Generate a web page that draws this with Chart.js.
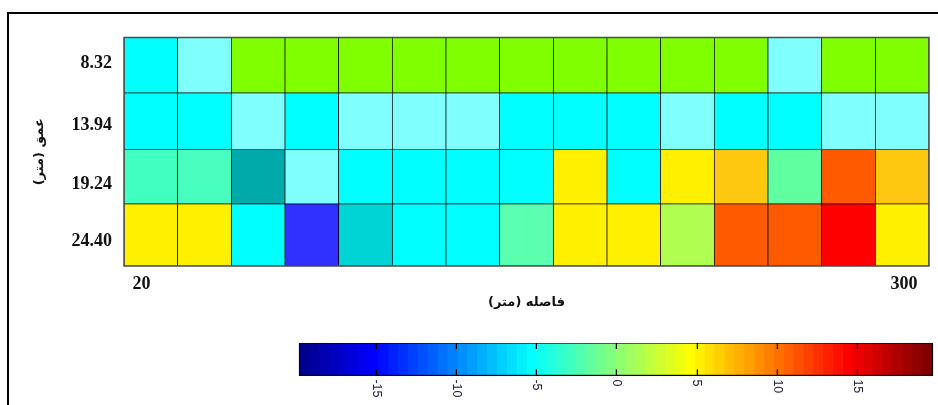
<!DOCTYPE html>
<html>
<head>
<meta charset="utf-8">
<script src="https://cdn.jsdelivr.net/npm/chart.js@4.4.1/dist/chart.umd.min.js"></script>
<style>
  html, body { margin:0; padding:0; background:#fff; }
  body { width:938px; height:405px; overflow:hidden; position:relative; }
  #frame { position:absolute; left:7px; top:12px; width:940px; height:400px; border-left:2px solid #000; border-top:2px solid #000; box-sizing:border-box; }
  #mainWrap { position:absolute; left:0; top:0; width:938px; height:405px; }
  #cb { position:absolute; left:944px; top:343.3px; transform-origin:0 0; transform:rotate(90deg); }
</style>
</head>
<body>
<div id="frame"></div>
<div id="mainWrap"><canvas id="main" width="938" height="405"></canvas></div>
<canvas id="cb" width="64" height="656"></canvas>
<script>
// ---- data ----
const distances = ['20','40','60','80','100','120','140','160','180','200','220','240','260','280','300'];
const xTickValues = [20, 300];
const depths = [8.32, 13.94, 19.24, 24.40];
const depthEdges = [6.0, 11.0, 16.1, 21.0, 26.6];
const row832  = [-5, -3, 0, 0, 0, 0, 0, 0, 0, 0, 0, 0, -3, 0, 0];
const row1394 = [-5, -5, -3, -5, -3, -3, -3, -5, -5, -5, -3, -5, -5, -3, -3];
const row1924 = [-2.4, -2, -9, -3, -5, -5, -5, -5, 5.6, -5, 5.6, 7.2, -1, 11.5, 7.2];
const row2440 = [5.6, 5.6, -5, -14, -7, -5, -5, -1.5, 5.6, 5.6, 1.9, 11.5, 11.5, 15, 5.6];
const cellValues = [row832, row1394, row1924, row2440];
const colorbarTicks = [-15, -10, -5, 0, 5, 10, 15];
const colorbarMin = -19.8, colorbarMax = 19.7;

// ---- styles ----
const cellClasses = [
  [-12, '#3030FF'], [-8, '#00AAAA'], [-6, '#00D4D4'], [-4, '#00FFFF'],
  [-2.7, '#80FFFF'], [-2.2, '#40FFC0'], [-1.7, '#48FFBF'], [-1.3, '#5AFFB0'],
  [-0.5, '#60FFA0'], [1, '#80FF00'], [3, '#B0FF50'], [6.5, '#FFF000'],
  [9, '#FFC810'], [14, '#FF5A00'], [Infinity, '#FF0000']
];
function cellColor(v) {
  for (const [hi, c] of cellClasses) if (v < hi) return c;
  return '#FF0000';
}
function jet(m) {
  const n = Math.ceil(m / 4), u = [];
  for (let i = 1; i <= n; i++) u.push(i / n);
  for (let i = 0; i < n - 1; i++) u.push(1);
  for (let i = n; i >= 1; i--) u.push(i / n);
  const g0 = Math.ceil(n / 2) - (m % 4 === 1 ? 1 : 0);
  const J = Array.from({length: m}, () => [0, 0, 0]);
  for (let k = 0; k < u.length; k++) {
    const g = g0 + k + 1, r = g + n, b = g - n;
    if (r <= m) J[r - 1][0] = u[k];
    if (g <= m) J[g - 1][1] = u[k];
    if (b >= 1) J[b - 1][2] = u[k];
  }
  return J.map(c => 'rgb(' + c.map(x => Math.round(x * 255)).join(',') + ')');
}

const areaBorder = {
  id: 'areaBorder',
  afterDraw(chart, args, opts) {
    const {ctx, chartArea: a} = chart;
    ctx.save();
    ctx.strokeStyle = opts.color || '#000';
    ctx.lineWidth = opts.width || 1;
    ctx.strokeRect(a.left, a.top, a.right - a.left, a.bottom - a.top);
    ctx.restore();
  }
};

const serifBold = {family: "'Liberation Serif', 'Times New Roman', serif", size: 18, weight: 'bold'};
const arabicBold = {family: "'DejaVu Sans', sans-serif", size: 13, weight: 'bold'};

// ---- main heatmap ----
new Chart(document.getElementById('main'), {
  type: 'bar',
  data: {
    labels: distances,
    datasets: cellValues.map((row, r) => ({
      label: String(depths[r]),
      data: row.map(() => [depthEdges[r], depthEdges[r + 1]]),
      backgroundColor: row.map(cellColor),
      borderColor: '#000',
      borderWidth: 0.7,
      borderSkipped: false,
      barPercentage: 1,
      categoryPercentage: 1,
      grouped: false,
      xAxisID: 'x',
      yAxisID: 'y'
    }))
  },
  options: {
    responsive: false,
    animation: false,
    layout: {padding: {top: 37.5, right: 9, left: 0, bottom: 0}},
    plugins: {legend: {display: false}, tooltip: {enabled: false}, areaBorder: {color: '#4d4d4d', width: 1.5}},
    scales: {
      x: {type: 'category', display: false, offset: true},
      x2: {
        type: 'linear', position: 'bottom', min: 13.57, max: 309.18, offset: false,
        afterBuildTicks: s => { s.ticks = xTickValues.map(v => ({value: v})); },
        afterFit: s => { s.height = 139; },
        grid: {display: false, drawTicks: false, offset: false},
        border: {display: false},
        ticks: {font: serifBold, color: '#111', padding: 8, maxRotation: 0, autoSkip: false},
        title: {display: true, text: 'فاصله (متر)', font: arabicBold, color: '#111', padding: {top: 0, bottom: 94.6}}
      },
      y: {
        type: 'linear', reverse: true, min: depthEdges[0], max: depthEdges[depthEdges.length - 1],
        afterBuildTicks: s => { s.ticks = depths.map(v => ({value: v})); },
        afterFit: s => { s.width = 124; },
        grid: {display: false, drawTicks: false},
        border: {display: false},
        ticks: {font: serifBold, color: '#111', padding: 12, callback: v => Number(v).toFixed(2)},
        title: {display: true, text: 'عمق (متر)', font: arabicBold, color: '#111', padding: {top: 31.6, bottom: 0}}
      }
    }
  },
  plugins: [areaBorder]
});

// ---- colour bar (drawn vertically, rotated 90deg by CSS) ----
const jetColors = jet(64);
const bandStep = (colorbarMax - colorbarMin) / jetColors.length;
new Chart(document.getElementById('cb'), {
  type: 'bar',
  data: {
    labels: ['cb'],
    datasets: [{
      data: jetColors.map((c, i) => ({x: 'cb', y: [colorbarMin + i * bandStep, colorbarMin + (i + 1) * bandStep + bandStep * 0.05]})),
      backgroundColor: jetColors,
      borderWidth: 0,
      barPercentage: 1,
      categoryPercentage: 1,
      grouped: false
    }]
  },
  options: {
    responsive: false,
    animation: false,
    layout: {padding: {top: 10, bottom: 10, left: 0, right: 0}},
    plugins: {legend: {display: false}, tooltip: {enabled: false}, areaBorder: {color: '#000', width: 1.2}},
    scales: {
      x: {type: 'category', display: false, offset: true},
      y: {
        position: 'right', min: colorbarMin, max: colorbarMax,
        afterBuildTicks: s => { s.ticks = colorbarTicks.map(v => ({value: v})); },
        afterFit: s => { s.width = 31.6; },
        grid: {color: '#000', lineWidth: 1.3, drawTicks: false, z: 1},
        border: {display: false, dash: [6, 20.4]},
        ticks: {font: {family: "'Liberation Sans', Arial, sans-serif", size: 12.5}, color: '#202040', padding: 4}
      }
    }
  },
  plugins: [areaBorder]
});
</script>
</body>
</html>
